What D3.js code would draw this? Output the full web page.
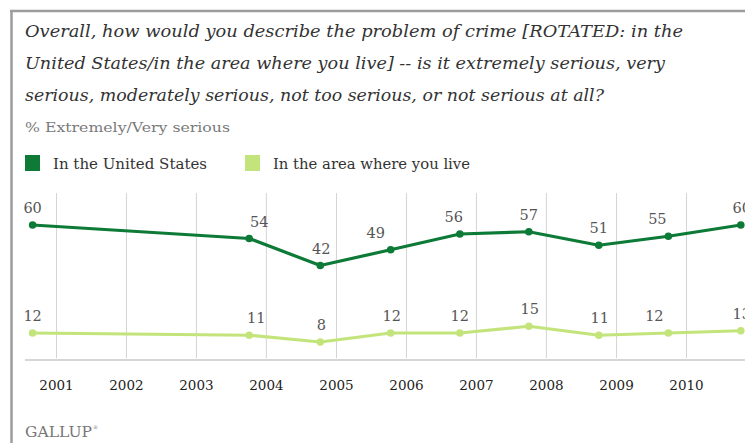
<!DOCTYPE html>
<html>
<head>
<meta charset="utf-8">
<script src="https://cdn.jsdelivr.net/npm/d3@7/dist/d3.min.js"></script>
<style>
  html, body { margin: 0; padding: 0; background: #fff; }
  svg { display: block; }
  text { font-family: "DejaVu Serif", "Liberation Serif", serif; }
</style>
</head>
<body>
<svg id="chart" width="745" height="443"></svg>
<script>
// Survey fielding dates (Gallup crime polls)
const surveyDates = ["2000-09-01", "2003-10-06", "2004-10-11", "2005-10-13", "2006-10-09",
                     "2007-10-04", "2008-10-03", "2009-10-01", "2010-10-14"];
// % saying crime is extremely/very serious
const unitedStates = [60, 54, 42, 49, 56, 57, 51, 55, 60];
const localArea    = [12, 11, 8, 12, 12, 15, 11, 12, 13];
const seriesNames  = ["In the United States", "In the area where you live"];
const yearTicks    = [2001, 2002, 2003, 2004, 2005, 2006, 2007, 2008, 2009, 2010];

const titleLines = [
  "Overall, how would you describe the problem of crime [ROTATED: in the",
  "United States/in the area where you live] -- is it extremely serious, very",
  "serious, moderately serious, not too serious, or not serious at all?"
];
const subtitle = "% Extremely/Very serious";

const parse = d3.timeParse("%Y-%m-%d");
const dates = surveyDates.map(parse);

const svg = d3.select("#chart");
const darkGreen = "#0d7a37";
const lightGreen = "#c3e47b";

// frame: top and left rules
svg.append("line").attr("x1", 10).attr("x2", 745).attr("y1", 11).attr("y2", 11)
  .attr("stroke", "#9c9c9c").attr("stroke-width", 2.5);
svg.append("line").attr("x1", 11.5).attr("x2", 11.5).attr("y1", 10).attr("y2", 443)
  .attr("stroke", "#9c9c9c").attr("stroke-width", 2.5);

// title
const titleWidths = [658, 640, 579];
svg.append("g").selectAll("text").data(titleLines).join("text")
  .attr("x", 25).attr("y", (d, i) => 37 + i * 31.8)
  .attr("font-size", 16.5).attr("font-style", "italic").attr("fill", "#333")
  .attr("textLength", (d, i) => titleWidths[i]).attr("lengthAdjust", "spacingAndGlyphs")
  .text(d => d);

svg.append("text").attr("x", 25).attr("y", 132)
  .attr("font-size", 13.5).attr("fill", "#7a7a7a")
  .attr("textLength", 205).attr("lengthAdjust", "spacingAndGlyphs")
  .text(subtitle);

// legend
const legendX = [25, 245];
const legendW = [154, 197];
const colors = [darkGreen, lightGreen];
const lg = svg.append("g").selectAll("g").data(seriesNames).join("g")
  .attr("transform", (d, i) => `translate(${legendX[i]},0)`);
lg.append("rect").attr("x", 0).attr("y", 155).attr("width", 15).attr("height", 16)
  .attr("fill", (d, i) => colors[i]);
lg.append("text").attr("x", 28).attr("y", 169)
  .attr("font-size", 14.5).attr("fill", "#333")
  .attr("textLength", (d, i) => legendW[i]).attr("lengthAdjust", "spacingAndGlyphs")
  .text(d => d);

// scales
const x = d3.scaleTime()
  .domain([new Date(2001, 0, 1), new Date(2010, 0, 1)])
  .range([56, 686]);
const y = d3.scaleLinear().domain([0, 60]).range([360, 225]);
const tickDates = yearTicks.map(yr => new Date(yr, 0, 1));

// vertical gridlines
svg.append("g").attr("transform", "translate(0,358)")
  .call(d3.axisBottom(x).tickValues(tickDates).tickSize(-165).tickFormat(""))
  .call(g => g.select(".domain").remove())
  .call(g => g.selectAll(".tick line").attr("stroke", "#d4d4d4").attr("stroke-width", 1));

// baseline
svg.append("line").attr("x1", 25).attr("x2", 745).attr("y1", y(0)).attr("y2", y(0))
  .attr("stroke", "#d6d6d6").attr("stroke-width", 2);

// year labels
svg.append("g").attr("transform", "translate(0,377)")
  .call(d3.axisBottom(x).tickValues(tickDates).tickSize(0).tickFormat(d3.timeFormat("%Y")))
  .call(g => g.select(".domain").remove())
  .call(g => g.selectAll(".tick text")
    .attr("font-family", "DejaVu Serif, serif").attr("font-size", 13.5).attr("fill", "#222"));

// series
const series = [
  { values: unitedStates, color: darkGreen, nudge: [0, 10, 1, -15, -6, 0, 0, -11, 1] },
  { values: localArea,    color: lightGreen, nudge: [0, 7, 1, 1, 0, 1, 1, -14, 1] }
];
const line = d3.line().x(d => x(d.date)).y(d => y(d.value));

series.forEach(s => {
  const pts = s.values.map((v, i) => ({ date: dates[i], value: v, i }));
  svg.append("path").datum(pts).attr("d", line)
    .attr("fill", "none").attr("stroke", s.color).attr("stroke-width", 3.2)
    .attr("stroke-linejoin", "round");
  svg.append("g").selectAll("circle").data(pts).join("circle")
    .attr("cx", d => x(d.date)).attr("cy", d => y(d.value)).attr("r", 3.8)
    .attr("fill", s.color);
  svg.append("g").selectAll("text").data(pts).join("text")
    .attr("x", d => x(d.date) + s.nudge[d.i]).attr("y", d => y(d.value) - 12)
    .attr("text-anchor", "middle").attr("font-size", 14.5).attr("fill", "#555")
    .text(d => d.value);
});

// brand mark
svg.append("text").attr("x", 25).attr("y", 437)
  .attr("font-family", "Liberation Serif, serif").attr("font-size", 15).attr("fill", "#777")
  .attr("textLength", 67).attr("lengthAdjust", "spacingAndGlyphs")
  .text("GALLUP");
svg.append("text").attr("x", 93).attr("y", 429)
  .attr("font-size", 5).attr("fill", "#777").text("®");
</script>
</body>
</html>
